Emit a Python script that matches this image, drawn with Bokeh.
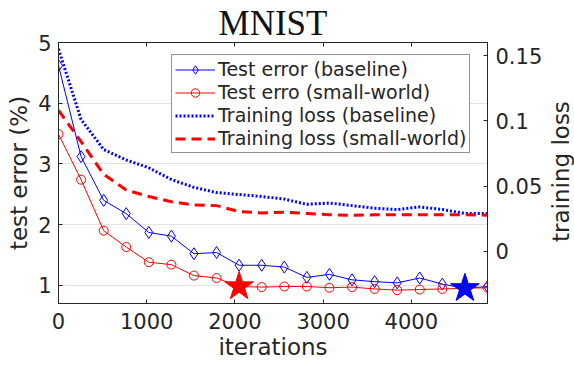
import math
from bokeh.plotting import figure
from bokeh.layouts import row
from bokeh.core.properties import value
from bokeh.models import (Range1d, LinearAxis, FixedTicker, Legend, LegendItem,
                          CustomJSTickFormatter)
from bokeh.embed import file_html
from bokeh.resources import INLINE

# ---------------- data ----------------
iterations = [0, 256, 512, 768, 1024, 1280, 1536, 1792, 2048, 2304,
              2560, 2816, 3072, 3328, 3584, 3840, 4096, 4352, 4608, 4864]
test_err_baseline = [4.62, 3.12, 2.40, 2.18, 1.87, 1.81, 1.52, 1.54, 1.33, 1.33,
                     1.30, 1.13, 1.18, 1.09, 1.06, 1.04, 1.12, 1.02, 0.95, 0.98]
test_err_smallworld = [3.49, 2.74, 1.90, 1.63, 1.38, 1.34, 1.16, 1.12, 0.98, 0.97,
                       0.98, 0.98, 0.96, 0.97, 0.94, 0.92, 0.93, 0.94, 0.95, 0.96]
train_loss_baseline = [0.155, 0.101, 0.078, 0.070, 0.064, 0.055, 0.049, 0.045, 0.0435, 0.042,
                       0.040, 0.036, 0.037, 0.035, 0.033, 0.032, 0.034, 0.032, 0.029, 0.029]
train_loss_smallworld = [0.108, 0.084, 0.059, 0.047, 0.042, 0.038, 0.0355, 0.035, 0.0305, 0.0294,
                         0.030, 0.029, 0.028, 0.0275, 0.028, 0.028, 0.028, 0.028, 0.028, 0.0277]
star_iter = [2048, 4608]
star_err = [0.98, 0.95]
star_colors = ["#ff0000", "#0000ff"]

x_ticks = [0, 1000, 2000, 3000, 4000]
left_ticks = [1, 2, 3, 4, 5]
right_ticks = [0, 0.05, 0.1, 0.15]

legend_labels = ["Test error (baseline)", "Test erro (small-world)",
                 "Training loss (baseline)", "Training loss (small-world)"]
right_label = "training loss"

# ---------------- figure ----------------
FONT = "DejaVu Sans"
TXT = "#262626"

p = figure(width=546, height=366, output_backend="svg", toolbar_location=None,
           x_range=Range1d(0, 4864), y_range=Range1d(0.7, 5),
           min_border_left=58, min_border_right=59, min_border_top=39,
           min_border_bottom=63)
p.title.visible = False
p.background_fill_color = "white"
p.border_fill_color = "white"
p.outline_line_color = TXT
p.outline_line_width = 1
p.outline_line_alpha = 1

p.extra_y_ranges = {"loss": Range1d(-0.04, 0.16)}

# grid
p.xgrid.visible = False
p.ygrid.ticker = FixedTicker(ticks=left_ticks)
p.ygrid.grid_line_color = "#e3e3e3"
p.ygrid.grid_line_width = 1


def style_axis(ax):
    ax.major_label_text_font = FONT
    ax.major_label_text_font_size = "21px"
    ax.major_label_text_color = TXT
    ax.axis_line_color = TXT
    ax.major_tick_line_color = TXT
    ax.major_tick_in = 4
    ax.major_tick_out = 0
    ax.minor_tick_line_color = None
    ax.axis_label_text_font = FONT
    ax.axis_label_text_font_size = "23px"
    ax.axis_label_text_color = TXT
    ax.axis_label_text_font_style = "normal"


xa = p.xaxis[0]
style_axis(xa)
xa.ticker = FixedTicker(ticks=x_ticks)
xa.major_label_standoff = 9
xa.axis_label = "iterations"
xa.axis_label_standoff = 2

ya = p.yaxis[0]
style_axis(ya)
ya.ticker = FixedTicker(ticks=left_ticks)
ya.major_label_standoff = 7
ya.axis_label = "test error (%)"
ya.axis_label_standoff = 3

ra = LinearAxis(y_range_name="loss")
style_axis(ra)
ra.ticker = FixedTicker(ticks=right_ticks)
ra.formatter = CustomJSTickFormatter(code="return String(tick);")
ra.major_label_standoff = 8
p.add_layout(ra, "right")

ta = LinearAxis()
style_axis(ta)
ta.ticker = FixedTicker(ticks=x_ticks)
ta.major_label_text_font_size = "0px"
ta.major_label_text_alpha = 0
ta.major_label_standoff = 0
ta.axis_label = "MNIST"
ta.axis_label_text_font = "Liberation Serif"
ta.axis_label_text_font_size = "35px"
ta.axis_label_text_color = "#111111"
ta.axis_label_standoff = 0
p.add_layout(ta, "above")

# ---------------- glyphs ----------------
lb = p.line(iterations, train_loss_baseline, y_range_name="loss",
            line_color="#0000ff", line_width=3, line_dash="2 2")
ls = p.line(iterations, train_loss_smallworld, y_range_name="loss",
            line_color="#ff0000", line_width=3, line_dash="10 6")

tb_line = p.line(iterations, test_err_baseline, line_color="#0000ff", line_width=1)
tb_mark = p.scatter(iterations, test_err_baseline, marker="diamond", size=12,
                    line_color="#0000ff", fill_color=None, line_width=1)
ts_line = p.line(iterations, test_err_smallworld, line_color="#ff0000", line_width=1)
ts_mark = p.scatter(iterations, test_err_smallworld, marker="circle", size=9,
                    line_color="#ff0000", fill_color=None, line_width=1)

p.scatter(star_iter, star_err, marker="star", size=30, fill_color=star_colors,
          line_color=star_colors)

# ---------------- legend ----------------
legend = Legend(items=[
    LegendItem(label=legend_labels[0], renderers=[tb_line, tb_mark]),
    LegendItem(label=legend_labels[1], renderers=[ts_line, ts_mark]),
    LegendItem(label=legend_labels[2], renderers=[lb]),
    LegendItem(label=legend_labels[3], renderers=[ls]),
], location=(113, 150))
legend.label_text_font = FONT
legend.label_text_font_size = "19px"
legend.label_text_color = TXT
legend.glyph_width = 40
legend.glyph_height = 21
legend.label_height = 21
legend.label_standoff = 3
legend.padding = 3
legend.spacing = 1
legend.margin = 0
legend.border_line_color = TXT
legend.border_line_width = 1
legend.background_fill_color = "white"
legend.background_fill_alpha = 1
p.add_layout(legend)

# ---------------- right-hand axis title (reads bottom to top) ----------------
p2 = figure(width=28, height=366, output_backend="svg", toolbar_location=None,
            x_range=Range1d(0, 28), y_range=Range1d(0, 366),
            x_axis_type=None, y_axis_type=None,
            min_border_left=0, min_border_right=0, min_border_top=0,
            min_border_bottom=0)
p2.title.visible = False
p2.outline_line_color = None
p2.background_fill_color = "white"
p2.border_fill_color = "white"
p2.xgrid.visible = False
p2.ygrid.visible = False
p2.text(x=[14], y=[185], text=[right_label], angle=math.pi / 2,
        text_align="center", text_baseline="alphabetic",
        text_font=value(FONT), text_font_size=value("23px"), text_color=TXT)

layout = row(p, p2, spacing=0)

open("out.html", "w").write(file_html(layout, INLINE))
